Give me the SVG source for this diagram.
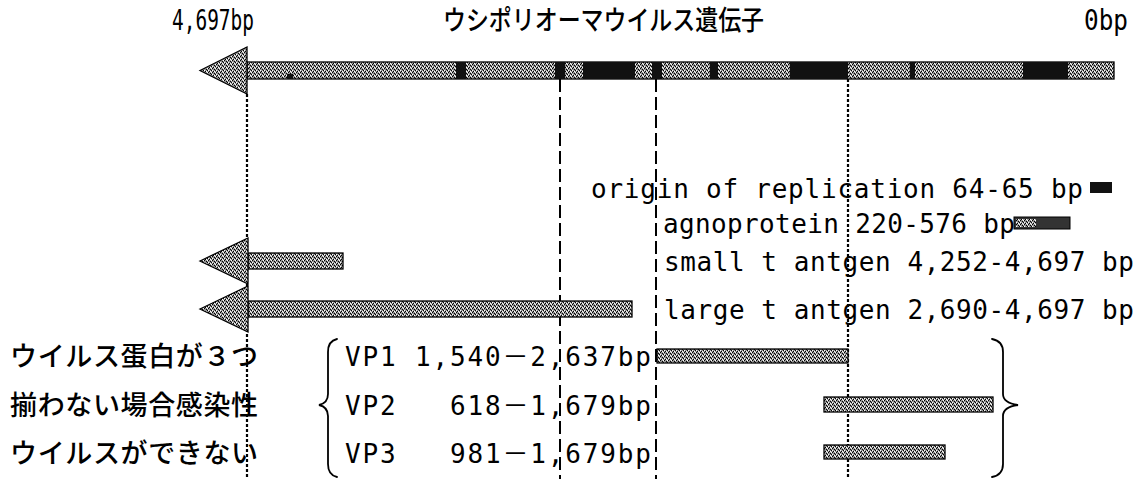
<svg xmlns="http://www.w3.org/2000/svg" width="1134" height="479" viewBox="0 0 1134 479">
  <defs>
    <pattern id="ht" width="4" height="4" patternUnits="userSpaceOnUse">
      <rect width="4" height="4" fill="#969696"/>
      <rect x="0" y="0" width="1" height="1" fill="#000"/>
      <rect x="2" y="1" width="1" height="1" fill="#000"/>
      <rect x="1" y="3" width="1" height="1" fill="#000"/>
      <rect x="3" y="2" width="1" height="1" fill="#000"/>
      <rect x="2" y="3" width="1" height="1" fill="#fff"/>
      <rect x="0" y="2" width="1" height="1" fill="#fff"/>
      <rect x="3" y="0" width="1" height="1" fill="#fff"/>
    </pattern>
  </defs>
  <style>
    .jp { font-family: "Noto Sans CJK JP", "Noto Sans CJK SC", sans-serif; fill: #000; font-weight: 500; }
    .mono { font-family: "DejaVu Sans Mono", "Liberation Mono", "Noto Sans CJK JP", monospace; fill: #000; }
    .gray { fill: url(#ht); stroke: #000; stroke-width: 1.3; }
    .blk { fill: #111; }
    .dash { stroke: #000; stroke-width: 2; stroke-dasharray: 13 5; fill: none; }
    .dot { stroke: #000; stroke-width: 2.2; stroke-dasharray: 3 2; fill: none; }
    .brace { stroke: #000; stroke-width: 1.8; fill: none; stroke-linecap: round; }
  </style>
  <rect width="1134" height="479" fill="#fff"/>

  <g id="connectors">
    <line class="dot" x1="247" y1="94" x2="247" y2="479"/>
    <line class="dash" x1="560" y1="79" x2="560" y2="479"/>
    <line class="dash" x1="656" y1="79" x2="656" y2="479"/>
    <line class="dot" x1="848" y1="79" x2="848" y2="479"/>
  </g>

  <g id="header">
    <text class="mono" x="172" y="30" font-size="28" textLength="82" lengthAdjust="spacingAndGlyphs">4,697bp</text>
    <text class="jp" x="443" y="30" font-size="27" textLength="321" lengthAdjust="spacingAndGlyphs">ウシポリオーマウイルス遺伝子</text>
    <text class="mono" x="1084" y="30" font-size="28" textLength="44" lengthAdjust="spacingAndGlyphs">0bp</text>
  </g>

  <g id="genome">
    <rect class="gray" x="247" y="62" width="867" height="17"/>
    <rect class="blk" x="456" y="62" width="10" height="17"/>
    <rect class="blk" x="555" y="62" width="10" height="17"/>
    <rect class="blk" x="583" y="62" width="52" height="17"/>
    <rect class="blk" x="652" y="62" width="10" height="17"/>
    <rect class="blk" x="710" y="62" width="8" height="17"/>
    <rect class="blk" x="790" y="62" width="58" height="17"/>
    <rect class="blk" x="910" y="62" width="5" height="17"/>
    <rect class="blk" x="1023" y="62" width="45" height="17"/>
    <rect class="blk" x="287" y="74" width="6" height="5"/>
    <polygon class="gray" points="200,70.5 247,47 247,94"/>
  </g>

  <g id="origin">
    <text class="mono" x="591" y="198" font-size="26" textLength="492">origin of replication 64-65 bp</text>
    <rect class="blk" x="1090" y="182" width="22" height="11"/>
  </g>

  <g id="agnoprotein">
    <text class="mono" x="663" y="233" font-size="26" textLength="352">agnoprotein 220-576 bp</text>
    <rect x="1014" y="217" width="56" height="12" fill="#333" stroke="#000" stroke-width="1"/>
    <rect x="1016" y="219" width="20" height="8" fill="url(#ht)"/>
  </g>

  <g id="small-t">
    <rect class="gray" x="248" y="253" width="95" height="16"/>
    <polygon class="gray" points="200,261 248,238 248,284"/>
    <text class="mono" x="664" y="271" font-size="26" textLength="470">small t antgen 4,252-4,697 bp</text>
  </g>

  <g id="large-t">
    <rect class="gray" x="248" y="301" width="384" height="16"/>
    <polygon class="gray" points="200,309 248,286 248,332"/>
    <text class="mono" x="664" y="319" font-size="26" textLength="470">large t antgen 2,690-4,697 bp</text>
  </g>

  <g id="note">
    <text class="jp" x="10" y="366" font-size="27" textLength="248">ウイルス蛋白が３つ</text>
    <text class="jp" x="10" y="415" font-size="27" textLength="248">揃わない場合感染性</text>
    <text class="jp" x="10" y="463" font-size="27" textLength="248">ウイルスができない</text>
  </g>

  <g id="left-brace">
    <path class="brace" d="M337,339 Q328,341 328,352 L328,394 Q328,403 319,405 Q328,407 328,416 L328,464 Q328,475 337,477"/>
  </g>

  <g id="vp1">
    <text class="mono" x="345" y="366" font-size="26" textLength="306">VP1 1,540－2,637bp</text>
    <rect class="gray" x="657" y="349" width="191" height="14"/>
  </g>
  <g id="vp2">
    <text class="mono" x="345" y="415" font-size="26" textLength="306" xml:space="preserve">VP2   618－1,679bp</text>
    <rect class="gray" x="824" y="397" width="169" height="15"/>
  </g>
  <g id="vp3">
    <text class="mono" x="345" y="463" font-size="26" textLength="306" xml:space="preserve">VP3   981－1,679bp</text>
    <rect class="gray" x="824" y="445" width="121" height="14"/>
  </g>

  <g id="right-brace">
    <path class="brace" d="M992,339 Q1003,341 1003,352 L1003,394 Q1003,403 1018,405 Q1003,407 1003,416 L1003,464 Q1003,475 992,477"/>
  </g>
</svg>
